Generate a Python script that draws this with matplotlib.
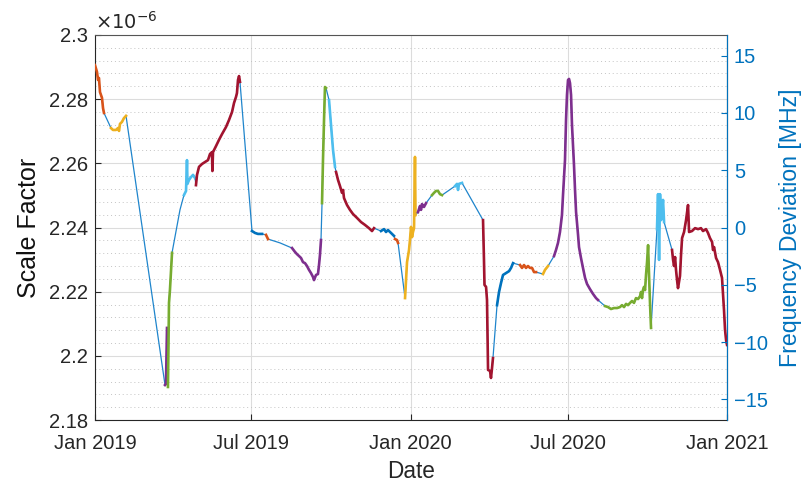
import matplotlib
matplotlib.use("Agg")
import matplotlib.pyplot as plt
import matplotlib.dates as mdates
from matplotlib.ticker import FuncFormatter, MultipleLocator
import pandas as pd

plt.rcParams["font.family"] = ["Liberation Sans", "DejaVu Sans"]

# MATLAB default line colours
colors = {
    "B": "#0072BD", "O": "#D95319", "Y": "#EDB120", "P": "#7E2F8E",
    "G": "#77AC30", "L": "#4DBEEE", "R": "#A2142F", "-": None,
}

start = pd.Timestamp("2019-01-01")

# segments: days since 2019-01-01, scale factor (x1e-6), colour label
seg_days = [
    [0, 2.3, 3.5, 4.6, 5.8, 8.1, 9.3, 10.4],
    [18.5, 20.8, 24.3, 26.6, 27.8, 28.9, 31.2, 33.5, 35.9],
    [81.0, 82.1, 83.3],
    [84.4, 85.6, 86.7, 89.1],
    [98.3],
    [102.9, 105.3, 106.4, 107.0, 108.7, 111.0, 113.4, 115.7],
    [116.8, 118.0, 120.3, 123.8, 127.2, 130.7, 133.0, 135.3, 135.8, 136.5, 140.0,
     143.4, 146.9, 151.5, 155.0, 158.5, 160.8, 163.1, 164.2, 165.4, 166.6, 167.7],
    [181.6, 185.1, 188.5, 193.2],
    [197.8, 200.1],
    [214.0],
    [227.9, 231.3, 233.6, 236.0, 238.3, 240.6, 242.9, 245.2, 247.5, 249.8, 252.1,
     253.3, 255.6, 257.9, 259.1, 260.2, 261.4],
    [262.6, 263.7, 264.9, 266.0, 267.2],
    [270.7, 273.0, 275.3, 277.6],
    [278.8, 281.1, 283.4, 285.7, 286.9, 288.0, 291.5, 294.9, 298.4, 303.0, 307.7,
     312.3, 316.9, 320.4, 322.7],
    [330.8, 334.3, 336.6, 338.9, 342.4, 345.8],
    [347.0, 349.3, 350.5],
    [358.6, 360.9, 363.2, 364.3, 365.5, 366.7, 367.8, 369.0, 370.1, 370.7],
    [373.6, 375.9, 377.1, 378.2, 380.5, 382.9],
    [389.8, 392.1, 394.4, 396.7, 399.0, 401.4],
    [416.4, 418.7, 419.9, 421.0, 424.5],
    [448.8, 449.9, 450.5, 452.3, 453.4, 454.6, 456.9, 458.0, 459.2, 460.3],
    [465.0, 467.3, 469.6, 471.9, 475.4, 478.9, 481.2, 483.5],
    [491.6, 493.9, 496.2, 498.5, 500.8, 503.1, 505.5, 507.8, 510.1],
    [518.2, 520.5, 524.0],
    [530.9, 533.2, 535.5, 537.8, 540.1, 541.3, 543.6, 544.8, 545.9, 547.1, 548.3,
     549.4, 550.6, 551.7, 554.0, 555.2, 556.4, 558.7, 559.8, 562.1, 564.4, 566.8,
     569.1, 572.5, 576.0, 579.5, 581.8],
    [589.9, 593.4, 596.8, 600.3, 603.8, 607.2, 609.5, 611.9, 614.2, 616.5, 618.8,
     621.1, 623.4, 625.7, 628.1, 630.4, 631.5, 632.7, 633.8, 635.0, 636.2, 637.3,
     638.5, 639.7, 640.8, 642.0, 643.1],
    [650.0, 651.2, 652.4, 653.5, 654.7, 655.8, 657.0, 658.2],
    [667.4, 668.6, 669.7, 670.9, 672.0, 673.2, 674.3, 676.6, 677.8, 679.0, 681.3,
     683.6, 685.9, 687.1, 690.5, 694.0, 697.5, 700.9, 703.2, 706.7, 709.0, 711.3,
     713.7, 714.8, 716.0, 718.3, 720.6, 722.9, 725.2, 727.5, 728.7, 729.9, 731.0],
]
seg_vals = [
    [2.2906, 2.2885, 2.2860, 2.2866, 2.2822, 2.2804, 2.2772, 2.2757],
    [2.2710, 2.2704, 2.2704, 2.2710, 2.2701, 2.2723, 2.2729, 2.2741, 2.2748],
    [2.1909, 2.1912, 2.2087],
    [2.1903, 2.2165, 2.2205, 2.2321],
    [2.2455],
    [2.2501, 2.2514, 2.2610, 2.2536, 2.2548, 2.2557, 2.2564, 2.2554],
    [2.2532, 2.2564, 2.2589, 2.2598, 2.2604, 2.2610, 2.2629, 2.2635, 2.2576, 2.2635, 2.2654,
     2.2673, 2.2691, 2.2713, 2.2735, 2.2760, 2.2788, 2.2807, 2.2819, 2.2860, 2.2872, 2.2854],
    [2.2389, 2.2383, 2.2380, 2.2380],
    [2.2377, 2.2364],
    [2.2352],
    [2.2336, 2.2324, 2.2317, 2.2311, 2.2305, 2.2292, 2.2289, 2.2280, 2.2268, 2.2258, 2.2246,
     2.2236, 2.2252, 2.2255, 2.2283, 2.2314, 2.2361],
    [2.2476, 2.2610, 2.2735, 2.2838, 2.2835],
    [2.2797, 2.2719, 2.2642, 2.2589],
    [2.2573, 2.2548, 2.2529, 2.2508, 2.2517, 2.2492, 2.2470, 2.2455, 2.2442, 2.2430, 2.2417,
     2.2408, 2.2398, 2.2389, 2.2398],
    [2.2389, 2.2395, 2.2386, 2.2392, 2.2383, 2.2374],
    [2.2364, 2.2361, 2.2352],
    [2.2180, 2.2292, 2.2330, 2.2361, 2.2402, 2.2370, 2.2386, 2.2398, 2.2620, 2.2439],
    [2.2448, 2.2467, 2.2455, 2.2473, 2.2464, 2.2476],
    [2.2501, 2.2508, 2.2514, 2.2514, 2.2504, 2.2501],
    [2.2529, 2.2536, 2.2517, 2.2536, 2.2539],
    [2.2423, 2.2299, 2.2221, 2.2215, 2.2174, 2.1956, 2.1953, 2.1931, 2.1962, 2.1993],
    [2.2158, 2.2199, 2.2227, 2.2252, 2.2258, 2.2264, 2.2274, 2.2289],
    [2.2283, 2.2274, 2.2283, 2.2274, 2.2280, 2.2274, 2.2274, 2.2261, 2.2261],
    [2.2255, 2.2268, 2.2280],
    [2.2311, 2.2330, 2.2352, 2.2386, 2.2439, 2.2501, 2.2610, 2.2735, 2.2813, 2.2860, 2.2863,
     2.2850, 2.2813, 2.2719, 2.2595, 2.2517, 2.2448, 2.2377, 2.2339, 2.2305, 2.2274, 2.2243,
     2.2224, 2.2208, 2.2193, 2.2180, 2.2174],
    [2.2155, 2.2152, 2.2146, 2.2149, 2.2149, 2.2152, 2.2158, 2.2152, 2.2162, 2.2158, 2.2165,
     2.2171, 2.2165, 2.2180, 2.2177, 2.2186, 2.2199, 2.2180, 2.2205, 2.2215, 2.2205, 2.2252,
     2.2292, 2.2345, 2.2252, 2.2158, 2.2087],
    [2.2395, 2.2504, 2.2299, 2.2504, 2.2423, 2.2455, 2.2486, 2.2417],
    [2.2330, 2.2299, 2.2280, 2.2308, 2.2268, 2.2236, 2.2211, 2.2249, 2.2314, 2.2367, 2.2386,
     2.2423, 2.2470, 2.2386, 2.2389, 2.2398, 2.2395, 2.2398, 2.2389, 2.2395, 2.2383, 2.2367,
     2.2355, 2.2330, 2.2339, 2.2305, 2.2292, 2.2268, 2.2243, 2.2143, 2.2081, 2.2049, 2.2034],
]
seg_cols = ["O", "Y", "P", "G", "-", "L", "R", "B", "O", "-", "P", "G", "L", "R",
            "B", "O", "Y", "P", "G", "L", "R", "B", "O", "Y", "P", "G", "L", "R"]

sf_ref = 2.24      # scale factor at zero frequency deviation
fd_half = 16.8     # MHz at +/- 0.06e-6

fig = plt.figure(figsize=(8.07, 4.82), dpi=100)
ax = fig.add_axes([0.1177, 0.1286, 0.7832, 0.7988])

def to_dates(days):
    return start + pd.to_timedelta(days, unit="D")

all_days = [d for seg in seg_days for d in seg]
all_vals = [v for seg in seg_vals for v in seg]
ax.plot(to_dates(all_days), all_vals, color="#1f85cc", lw=0.9, zorder=3)

for days, vals, c in zip(seg_days, seg_vals, seg_cols):
    if colors[c] is None:
        continue
    ax.plot(to_dates(days), vals, color=colors[c], lw=1.9, zorder=4,
            solid_joinstyle="round")

ax.set_xlim(start, pd.Timestamp("2021-01-01"))
ax.set_ylim(2.18, 2.30)
ax.yaxis.set_major_locator(MultipleLocator(0.02))
ax.yaxis.set_minor_locator(MultipleLocator(0.004))
ax.yaxis.set_major_formatter(FuncFormatter(lambda v, p: f"{v:g}"))
ax.xaxis.set_major_locator(mdates.MonthLocator(bymonth=[1, 7]))
ax.xaxis.set_major_formatter(mdates.DateFormatter("%b %Y"))

ax.grid(True, which="major", color="#dcdcdc", lw=0.8)
ax.grid(True, which="minor", axis="y", color="#c4c4c4", lw=0.7, ls=(0, (1, 3)))
ax.set_axisbelow(True)

ax.tick_params(axis="both", which="major", direction="in", labelsize=14.5,
               length=4, colors="#262626")
ax.tick_params(axis="y", which="minor", length=0)
ax.tick_params(axis="y", pad=5)
ax.tick_params(axis="x", pad=10)
for s in ["left", "bottom"]:
    ax.spines[s].set_color("#262626")
ax.spines["top"].set_color("#555555")

ax.set_xlabel("Date", fontsize=16.3, color="#262626", labelpad=5)
ax.set_ylabel("Scale Factor", fontsize=18, color="#111111", labelpad=6)
ax.text(0.0, 1.005, r"$\times10^{-6}$", transform=ax.transAxes, fontsize=14,
        ha="left", va="bottom", color="#262626")

ax2 = ax.twinx()
ax2.set_ylim(-fd_half, fd_half)
ax2.yaxis.set_major_locator(MultipleLocator(5))
ax2.tick_params(axis="y", direction="in", labelsize=14.5, length=4, pad=5,
                colors="#0072BD")
ax2.spines["right"].set_color("#0072BD")
ax2.spines["top"].set_visible(False)
ax2.spines["left"].set_visible(False)
ax2.spines["bottom"].set_visible(False)
ax2.set_ylabel("Frequency Deviation [MHz]", fontsize=16.7, color="#0072BD",
               labelpad=8)

fig.savefig("out.png", dpi=100)
